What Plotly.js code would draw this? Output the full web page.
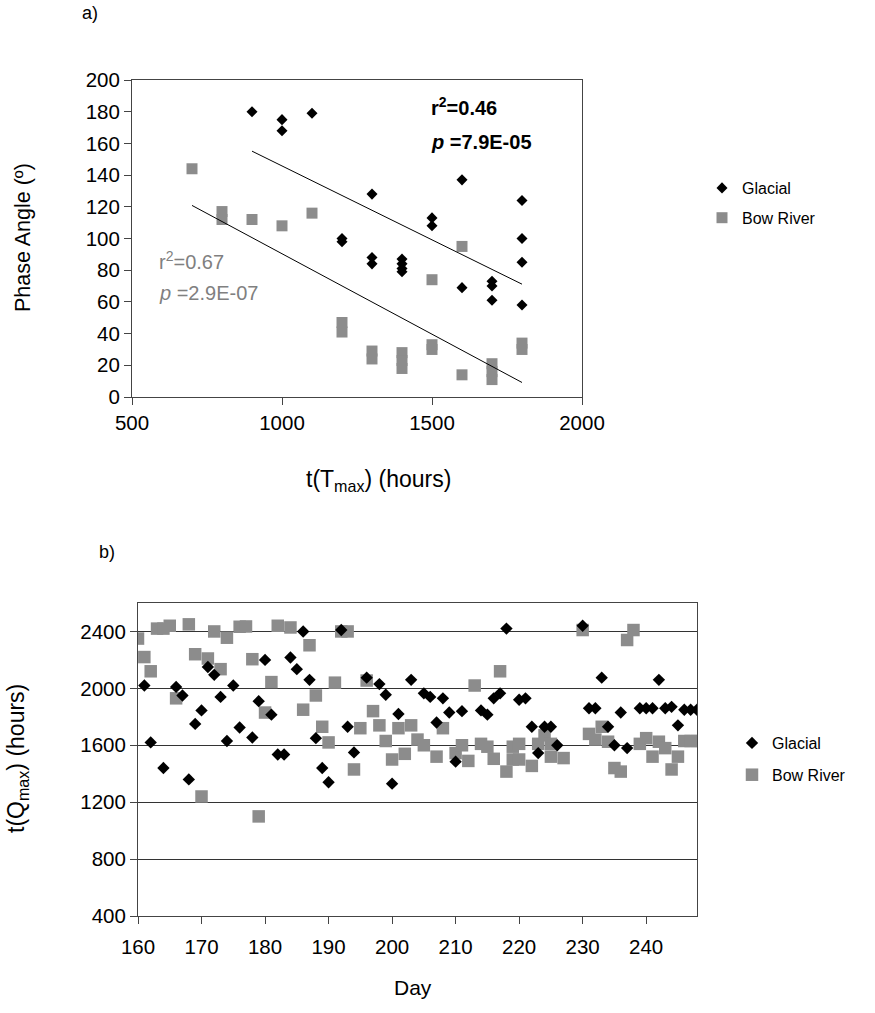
<!DOCTYPE html>
<html>
<head>
<meta charset="utf-8">
<script src="https://cdn.plot.ly/plotly-3.0.1.min.js"></script>
<style>html,body{margin:0;padding:0;background:#fff;}#chart{width:875px;height:1013px;}</style>
</head>
<body>
<div id="chart"></div>
<script>
// ---------- Panel a) data ----------
const glacialT = [900,1000,1000,1100,1200,1200,1300,1300,1300,1400,1400,1400,1400,1500,1500,1600,1600,1700,1700,1700,1800,1800,1800,1800];
const glacialPhase = [180,175,168,179,100,98,128,88,84,87,84,81,79,113,108,137,69,73,70,61,124,100,85,58];
const bowT = [700,800,800,900,1000,1100,1200,1200,1300,1300,1400,1400,1400,1500,1500,1500,1600,1600,1700,1700,1700,1800,1800];
const bowPhase = [144,117,112,112,108,116,47,41,29,24,28,23,18,74,33,30,95,14,21,16,11,34,30];

// ---------- Panel b) data ----------
const glacialDay = [161,162,164,166,167,168,169,170,171,172,173,174,175,176,178,179,180,181,182,183,184,185,186,187,188,189,190,192,193,194,196,198,199,200,201,203,205,206,207,208,209,210,211,214,215,216,217,218,220,221,222,223,224,225,226,230,231,232,233,234,235,236,237,239,240,241,242,243,244,245,246,247,248];
const glacialQ = [2020,1620,1440,2010,1950,1360,1750,1845,2150,2095,1940,1630,2020,1725,1655,1910,2200,1815,1535,1535,2217,2135,2400,2060,1650,1440,1340,2410,1730,1550,2075,2030,1955,1330,1820,2060,1965,1940,1760,1930,1830,1485,1840,1845,1815,1930,1965,2420,1920,1930,1730,1545,1730,1730,1600,2440,1860,1860,2075,1730,1600,1830,1580,1860,1860,1860,2060,1860,1870,1740,1850,1850,1850];
const bowDay = [160,161,162,163,164,165,166,168,169,170,171,172,173,174,176,177,178,179,180,181,182,184,186,187,188,189,190,191,192,193,194,195,196,197,198,199,200,201,202,203,204,205,207,208,210,211,212,213,214,215,216,217,218,219,219,220,220,222,223,224,225,225,227,230,231,232,233,234,235,236,237,238,239,240,241,242,243,244,245,246,247,248];
const bowQ = [2350,2220,2120,2420,2420,2440,1930,2450,2240,1240,2210,2400,2135,2356,2433,2435,2205,1100,1830,2044,2440,2428,1850,2303,1950,1730,1620,2040,2400,2400,1430,1720,2055,1840,1740,1630,1500,1720,1540,1740,1640,1600,1520,1720,1545,1600,1490,2020,1610,1590,1505,2120,1415,1590,1500,1610,1500,1455,1610,1670,1610,1520,1510,2410,1680,1640,1730,1625,1440,1415,2340,2410,1610,1650,1520,1625,1580,1430,1520,1630,1630,1630];

const xTicksA = [500,1000,1500,2000];
const yTicksB = [400,800,1200,1600,2000,2400];

// least squares trend line from the data
function trend(xs, ys){
  const n = xs.length;
  const mx = xs.reduce((a,b)=>a+b,0)/n, my = ys.reduce((a,b)=>a+b,0)/n;
  let sxy=0, sxx=0;
  for(let i=0;i<n;i++){sxy+=(xs[i]-mx)*(ys[i]-my); sxx+=(xs[i]-mx)*(xs[i]-mx);}
  const m = sxy/sxx, b = my - m*mx;
  const x0 = Math.min(...xs), x1 = Math.max(...xs);
  return {x:[x0,x1], y:[m*x0+b, m*x1+b]};
}
const tg = trend(glacialT, glacialPhase);
const tb = trend(bowT, bowPhase);

const W = 875, H = 1013;
const px = v => v/W, py = v => 1 - v/H;
const FONT = 'Liberation Sans, Arial, sans-serif';
const GRAY = '#8c8c8c';

const traces = [
  {x: glacialT, y: glacialPhase, xaxis:'x', yaxis:'y', type:'scatter', mode:'markers', name:'Glacial',
   marker:{symbol:'diamond', size:8.5, color:'#000'}, legend:'legend', legendgroup:'g1'},
  {x: bowT, y: bowPhase, xaxis:'x', yaxis:'y', type:'scatter', mode:'markers', name:'Bow River',
   marker:{symbol:'square', size:11, color:GRAY}, legend:'legend', legendgroup:'g2'},
  {x: tg.x, y: tg.y, xaxis:'x', yaxis:'y', type:'scatter', mode:'lines', line:{color:'#000', width:1}, showlegend:false, hoverinfo:'skip'},
  {x: tb.x, y: tb.y, xaxis:'x', yaxis:'y', type:'scatter', mode:'lines', line:{color:'#000', width:1}, showlegend:false, hoverinfo:'skip'},
  {x: bowDay, y: bowQ, xaxis:'x2', yaxis:'y2', type:'scatter', mode:'markers', name:'Bow River',
   marker:{symbol:'square', size:12.5, color:GRAY}, legend:'legend2', legendgroup:'h2', legendrank:2},
  {x: glacialDay, y: glacialQ, xaxis:'x2', yaxis:'y2', type:'scatter', mode:'markers', name:'Glacial',
   marker:{symbol:'diamond', size:9.5, color:'#000'}, legend:'legend2', legendgroup:'h1', legendrank:1}
];

const axisCommon = {showline:true, mirror:true, linecolor:'#444', linewidth:1, ticks:'outside', ticklen:7,
  tickcolor:'#444', zeroline:false, tickfont:{family:FONT, size:20.5, color:'#000'}, fixedrange:true};

const layout = {
  width: W, height: H, margin:{l:0,r:0,t:0,b:0}, paper_bgcolor:'#fff', plot_bgcolor:'#fff',
  font:{family:FONT, color:'#000'},
  xaxis: Object.assign({}, axisCommon, {domain:[px(132), px(582)], anchor:'y', range:[500,2000], tickvals:xTicksA, showgrid:false}),
  yaxis: Object.assign({}, axisCommon, {domain:[py(397), py(80)], anchor:'x', range:[0,200], dtick:20, showgrid:false}),
  xaxis2: Object.assign({}, axisCommon, {domain:[px(138), px(697)], anchor:'y2', range:[160,248], tick0:160, dtick:10, showgrid:false, ticklabelstandoff:5}),
  yaxis2: Object.assign({}, axisCommon, {domain:[py(916), py(603)], anchor:'x2', range:[400,2600], tickvals:yTicksB,
    showgrid:true, gridcolor:'#333', gridwidth:1}),
  legend: {x:px(702), y:py(171), xanchor:'left', yanchor:'top', bgcolor:'rgba(0,0,0,0)', font:{family:FONT, size:16}, tracegroupgap:6, traceorder:'grouped'},
  legend2: {x:px(732), y:py(726), xanchor:'left', yanchor:'top', bgcolor:'rgba(0,0,0,0)', font:{family:FONT, size:16}, tracegroupgap:8, traceorder:'grouped'},
  annotations: [
    {xref:'paper', yref:'paper', x:px(80), y:py(13), text:'a)', showarrow:false, xanchor:'left', yanchor:'middle', font:{size:18}},
    {xref:'paper', yref:'paper', x:px(97), y:py(552), text:'b)', showarrow:false, xanchor:'left', yanchor:'middle', font:{size:18}},
    {xref:'paper', yref:'paper', x:px(23), y:py(238), text:'Phase Angle (º)', textangle:-90, showarrow:false, xanchor:'center', yanchor:'middle', font:{size:21.5}},
    {xref:'paper', yref:'paper', x:px(378), y:py(480), text:'t(T<sub>max</sub>) (hours)', showarrow:false, xanchor:'center', yanchor:'middle', font:{size:23}},
    {xref:'paper', yref:'paper', x:px(17), y:py(759), text:'t(Q<sub>max</sub>) (hours)', textangle:-90, showarrow:false, xanchor:'center', yanchor:'middle', font:{size:23}},
    {xref:'paper', yref:'paper', x:px(413), y:py(987), text:'Day', showarrow:false, xanchor:'center', yanchor:'middle', font:{size:21}},
    {xref:'paper', yref:'paper', x:px(429), y:py(107), text:'<b>r<sup>2</sup>=0.46</b>', showarrow:false, xanchor:'left', yanchor:'middle', font:{size:20}},
    {xref:'paper', yref:'paper', x:px(429), y:py(142), text:'<b><i>p</i> =7.9E-05</b>', showarrow:false, xanchor:'left', yanchor:'middle', font:{size:20}},
    {xref:'paper', yref:'paper', x:px(157), y:py(260), text:'r<sup>2</sup>=0.67', showarrow:false, xanchor:'left', yanchor:'middle', font:{size:20, color:'#808080'}},
    {xref:'paper', yref:'paper', x:px(157), y:py(293), text:'<i>p</i> =2.9E-07', showarrow:false, xanchor:'left', yanchor:'middle', font:{size:20, color:'#808080'}}
  ]
};

Plotly.newPlot('chart', traces, layout, {staticPlot:true, displayModeBar:false});
</script>
</body>
</html>
